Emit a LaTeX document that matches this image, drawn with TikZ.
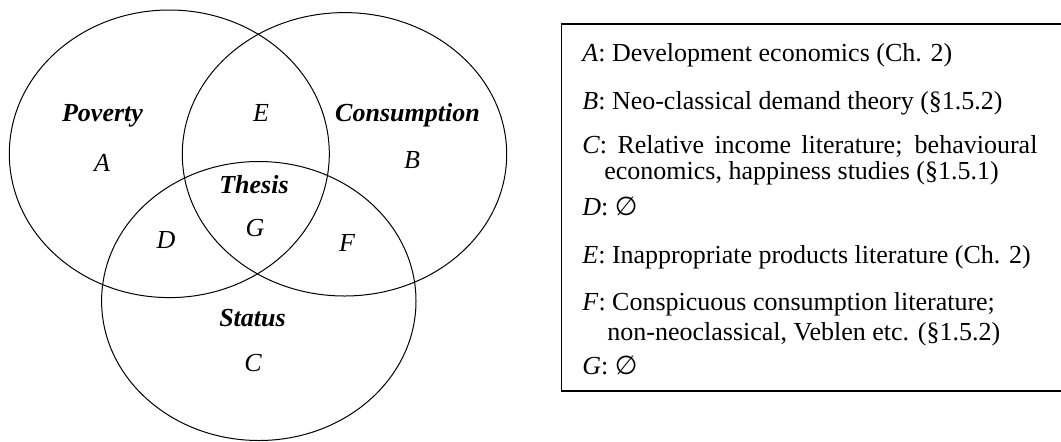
\documentclass[tikz,border=0pt]{standalone}
\usepackage{fontspec}
\setmainfont{Liberation Serif}
\newfontfamily\symfont{DejaVu Sans}
\usetikzlibrary{shapes.geometric}

\newcommand{\noneset}{{\symfont ∅}}

\begin{document}
\begin{tikzpicture}[x=0.5pt, y=-0.5pt, font=\fontsize{13}{15.6}\selectfont,
  setc/.style={draw, ellipse, line width=0.5pt, inner sep=0pt, outer sep=0pt},
  lab/.style={anchor=base, inner sep=0pt, font=\fontsize{13}{15.6}\selectfont\itshape},
  ttl/.style={anchor=base, inner sep=0pt, font=\fontsize{13}{15.6}\selectfont\bfseries\itshape},
  ln/.style={anchor=base west, inner sep=0pt}]
  \useasboundingbox (0,0) rectangle (1061,441);
  % --- the three sets ---
  \node[setc, minimum width=160pt, minimum height=143.8pt] (poverty) at (169.3,153.8) {};
  \node[setc, minimum width=162.2pt, minimum height=141.7pt] (consumption) at (344.5,154.3) {};
  \node[setc, minimum width=157.2pt, minimum height=139.5pt] (status) at (258.8,301) {};
  % --- set titles ---
  \node[ttl] (tpov) at (102.5,121) {Poverty};
  \node[ttl] (tcons) at (407.5,121) {Consumption};
  \node[ttl] (tthes) at (254,193.5) {Thesis};
  \node[ttl] (tstat) at (252.5,326) {Status};
  % --- regions ---
  \foreach \r/\x/\y in {A/102/171.5, B/412/168, C/253/371, D/166/248,
                        E/261/121.5, F/347/251, G/255/236}{
    \node[lab] (r\r) at (\x,\y) {\r};
  }
  % --- legend ---
  \node[draw, line width=0.75pt, outer sep=0pt, anchor=north west,
        minimum width=254.25pt, minimum height=183.5pt] (legend) at (561.5,24) {};
  \node[ln] (la) at (582,61) {\textit{A}: Development economics (Ch. 2)};
  \node[ln] (lb) at (582,109) {\textit{B}: Neo-classical demand theory (§1.5.2)};
  \node[ln] (lc) at (582,153) {\makebox[227.5pt][s]{\textit{C}: Relative income literature; behavioural}};
  \node[ln] (lc2) at (604,179) {economics, happiness studies (§1.5.1)};
  \node[ln] (ld) at (582,215) {\textit{D}: \noneset};
  \node[ln] (le) at (582,263) {\textit{E}: Inappropriate products literature (Ch. 2)};
  \node[ln] (lf) at (582,310) {\textit{F}: Conspicuous consumption literature;};
  \node[ln] (lf2) at (607,340) {non-neoclassical, Veblen etc. (§1.5.2)};
  \node[ln] (lg) at (582,374) {\textit{G}: \noneset};
\end{tikzpicture}
\end{document}
